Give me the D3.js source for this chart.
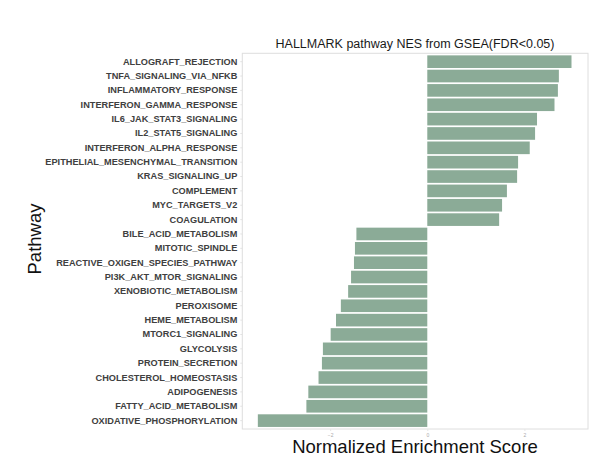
<!DOCTYPE html>
<html><head><meta charset="utf-8">
<script src="https://cdn.jsdelivr.net/npm/d3@7"></script>
<style>html,body{margin:0;padding:0;background:#fff;}svg{display:block;}</style>
</head><body>
<script>
const pathways = ["ALLOGRAFT_REJECTION","TNFA_SIGNALING_VIA_NFKB","INFLAMMATORY_RESPONSE","INTERFERON_GAMMA_RESPONSE","IL6_JAK_STAT3_SIGNALING","IL2_STAT5_SIGNALING","INTERFERON_ALPHA_RESPONSE","EPITHELIAL_MESENCHYMAL_TRANSITION","KRAS_SIGNALING_UP","COMPLEMENT","MYC_TARGETS_V2","COAGULATION","BILE_ACID_METABOLISM","MITOTIC_SPINDLE","REACTIVE_OXIGEN_SPECIES_PATHWAY","PI3K_AKT_MTOR_SIGNALING","XENOBIOTIC_METABOLISM","PEROXISOME","HEME_METABOLISM","MTORC1_SIGNALING","GLYCOLYSIS","PROTEIN_SECRETION","CHOLESTEROL_HOMEOSTASIS","ADIPOGENESIS","FATTY_ACID_METABOLISM","OXIDATIVE_PHOSPHORYLATION"];
const nes = [2.97,2.71,2.69,2.62,2.26,2.22,2.11,1.87,1.85,1.64,1.54,1.48,-1.46,-1.49,-1.51,-1.57,-1.63,-1.78,-1.88,-1.99,-2.15,-2.17,-2.24,-2.45,-2.49,-3.49];
const xTicks = [-2, 0, 2];
const title = "HALLMARK pathway NES from GSEA(FDR<0.05)";
const xTitle = "Normalized Enrichment Score";
const yTitle = "Pathway";

const W = 613, H = 457;
const panel = {l: 242.3, r: 588, t: 53.3, b: 429};
const svg = d3.select("body").append("svg").attr("width", W).attr("height", H);

const x = d3.scaleLinear().domain([-3.81, 3.31]).range([panel.l, panel.r]);
const y = d3.scaleBand().domain(pathways).range([panel.t + 1.2, panel.b - 1.2]).paddingInner(0.12).paddingOuter(0.06);

svg.append("rect").attr("x", panel.l).attr("y", panel.t).attr("width", panel.r - panel.l).attr("height", panel.b - panel.t)
  .attr("fill", "#fff").attr("stroke", "#dedede").attr("stroke-width", 1);

svg.append("g").selectAll("rect").data(pathways).join("rect")
  .attr("x", (d, i) => x(Math.min(0, nes[i])))
  .attr("width", (d, i) => Math.abs(x(nes[i]) - x(0)))
  .attr("y", d => y(d))
  .attr("height", y.bandwidth())
  .attr("fill", "#8bab97");

const yAxis = d3.axisLeft(y).tickSize(2).tickPadding(3);
const gy = svg.append("g").attr("transform", `translate(${panel.l},0)`).call(yAxis);
gy.select(".domain").remove();
gy.selectAll(".tick line").attr("stroke", "#e2e2e2");
gy.selectAll(".tick text").attr("font-family", "Liberation Sans, Arial, sans-serif").attr("font-weight", "bold")
  .attr("font-size", 9.2).attr("fill", "#404040");

const xAxis = d3.axisBottom(x).tickValues(xTicks).tickSize(2).tickPadding(2).tickFormat(d3.format("d"));
const gx = svg.append("g").attr("transform", `translate(0,${panel.b})`).call(xAxis);
gx.select(".domain").remove();
gx.selectAll(".tick line").attr("stroke", "#e6e6e6");
gx.selectAll(".tick text").attr("font-family", "Liberation Sans, Arial, sans-serif").attr("font-size", 5).attr("fill", "#aaa");

svg.append("text").attr("x", 415).attr("y", 48.3).attr("text-anchor", "middle")
  .attr("font-family", "Liberation Sans, Arial, sans-serif").attr("font-size", 12.5).attr("fill", "#1a1a1a").text(title);
svg.append("text").attr("x", 415).attr("y", 453.3).attr("text-anchor", "middle")
  .attr("font-family", "Liberation Sans, Arial, sans-serif").attr("font-size", 18.5).attr("fill", "#111").text(xTitle);
svg.append("text").attr("transform", "translate(40.5,239) rotate(-90)").attr("text-anchor", "middle")
  .attr("font-family", "Liberation Sans, Arial, sans-serif").attr("font-size", 18.5).attr("fill", "#111").text(yTitle);
</script>
</body></html>
